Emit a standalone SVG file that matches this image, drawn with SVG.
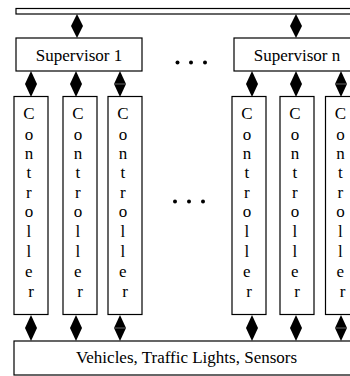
<svg xmlns="http://www.w3.org/2000/svg" xmlns:xlink="http://www.w3.org/1999/xlink" width="350" height="376" viewBox="0 0 350 376">
  <style>
    .box{fill:#fff;stroke:#000;stroke-width:1.2}
    .lbl{font-family:"Liberation Serif","Times New Roman",serif;font-size:17px;fill:#000;text-anchor:middle}
    .dia{fill:#000}
    .seam{stroke:#666;stroke-width:1}
    .dot{fill:#000}
  </style>
  <defs>
    <!-- controller: tall box with the word written letter by letter -->
    <g id="ctl">
      <rect class="box" x="0" y="96.5" width="34" height="218"/>
      <text class="lbl">
        <tspan x="17" y="119">C</tspan>
        <tspan x="17" y="140">o</tspan>
        <tspan x="17" y="159">n</tspan>
        <tspan x="17" y="178">t</tspan>
        <tspan x="17" y="198">r</tspan>
        <tspan x="17" y="217">o</tspan>
        <tspan x="17" y="236.5">l</tspan>
        <tspan x="17" y="256.5">l</tspan>
        <tspan x="17" y="277">e</tspan>
        <tspan x="17" y="297">r</tspan>
      </text>
    </g>
    <!-- double-headed link drawn as a diamond -->
    <path id="dia" class="dia" d="M0,-13 L6,0 L0,13 L-6,0 Z"/>
    <path id="diaS" class="dia" d="M0,-12 L6,0 L0,12 L-6,0 Z"/>
  </defs>

  <!-- top bus -->
  <g id="bus">
    <rect class="box" x="16" y="8.5" width="350" height="5.5"/>
  </g>

  <g id="supervisor1">
    <rect class="box" x="16" y="38" width="126" height="33"/>
    <text class="lbl" x="79" y="61">Supervisor 1</text>
  </g>
  <g id="supervisorN">
    <rect class="box" x="234" y="38" width="130" height="33"/>
    <text class="lbl" x="297" y="61">Supervisor n</text>
  </g>

  <g id="controller1-1"><use xlink:href="#ctl" x="14"/></g>
  <g id="controller1-2"><use xlink:href="#ctl" x="63"/></g>
  <g id="controller1-3"><use xlink:href="#ctl" x="108"/></g>
  <g id="controllerN-1"><use xlink:href="#ctl" x="232"/></g>
  <g id="controllerN-2"><use xlink:href="#ctl" x="280"/></g>
  <g id="controllerN-3"><use xlink:href="#ctl" x="325.5"/></g>

  <g id="field">
    <rect class="box" x="14" y="341" width="360" height="34"/>
    <text class="lbl" x="186.5" y="362.5">Vehicles, Traffic Lights, Sensors</text>
  </g>

  <!-- ellipses between the groups -->
  <g id="ellipsis">
    <circle class="dot" cx="177.5" cy="62.5" r="2"/>
    <circle class="dot" cx="191" cy="62.5" r="2"/>
    <circle class="dot" cx="205" cy="62.5" r="2"/>
    <circle class="dot" cx="175" cy="201.5" r="2"/>
    <circle class="dot" cx="189" cy="201.5" r="2"/>
    <circle class="dot" cx="203" cy="201.5" r="2"/>
  </g>

  <g id="connectors">
    <use xlink:href="#diaS" x="77" y="26"/>
    <use xlink:href="#diaS" x="296" y="26"/>

    <use xlink:href="#dia" x="31" y="84"/>
    <use xlink:href="#dia" x="76" y="84"/>
    <use xlink:href="#dia" x="120" y="84"/>
    <use xlink:href="#dia" x="252" y="84"/>
    <use xlink:href="#dia" x="296" y="84"/>
    <use xlink:href="#dia" x="341" y="84"/>

    <use xlink:href="#dia" x="31" y="328"/>
    <use xlink:href="#dia" x="76" y="328"/>
    <use xlink:href="#dia" x="120" y="328"/>
    <use xlink:href="#dia" x="252" y="328"/>
    <use xlink:href="#dia" x="296" y="328"/>
    <use xlink:href="#dia" x="341" y="328"/>

    <line class="seam" x1="114" y1="84" x2="126" y2="84"/>
    <line class="seam" x1="335" y1="84" x2="347" y2="84"/>
    <line class="seam" x1="114" y1="328" x2="126" y2="328"/>
    <line class="seam" x1="335" y1="328" x2="347" y2="328"/>
  </g>
</svg>
